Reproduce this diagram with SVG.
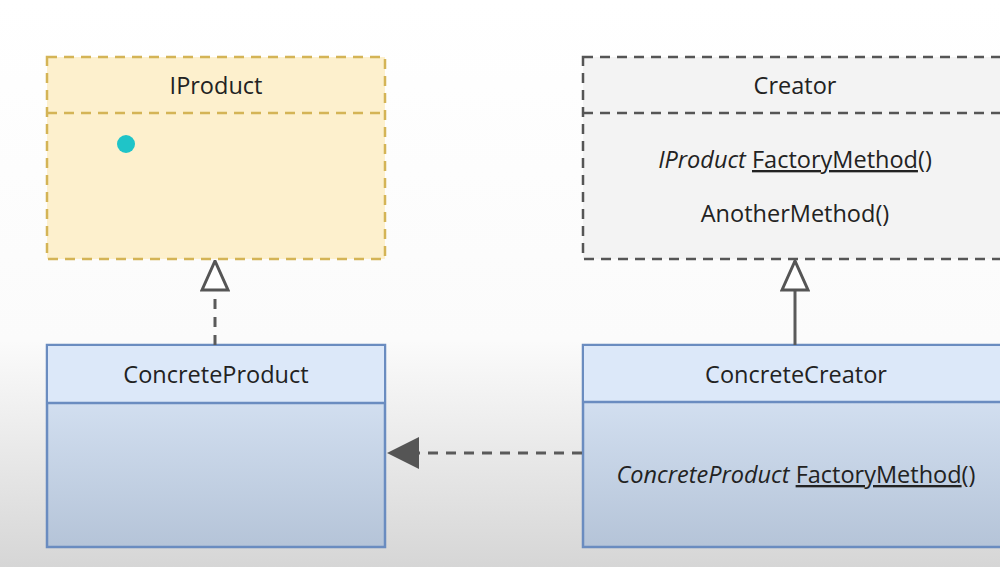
<svg xmlns="http://www.w3.org/2000/svg" width="1000" height="567" viewBox="0 0 1000 567">
<defs>
<linearGradient id="bg" x1="0" y1="0" x2="0" y2="1">
<stop offset="0" stop-color="#ffffff"/>
<stop offset="0.6" stop-color="#fbfbfb"/>
<stop offset="1" stop-color="#d6d6d6"/>
</linearGradient>
<linearGradient id="blue" x1="0" y1="0" x2="0" y2="1">
<stop offset="0" stop-color="#dde9f9"/>
<stop offset="1" stop-color="#b5c4d8"/>
</linearGradient>
<marker id="hollow" viewBox="0 0 32 30" refX="31" refY="15" markerWidth="32" markerHeight="30" markerUnits="userSpaceOnUse" orient="auto">
<path d="M2,2 L31,15 L2,28 Z" fill="#ffffff" stroke="#555555" stroke-width="3" stroke-linejoin="miter"/>
</marker>
<marker id="filled" viewBox="0 0 32 32" refX="31" refY="16" markerWidth="32" markerHeight="32" markerUnits="userSpaceOnUse" orient="auto">
<path d="M0,0 L32,16 L0,32 Z" fill="#555555"/>
</marker>
</defs>
<style>
.t{font-family:"Open Sans","Noto Sans",sans-serif;font-size:23.5px;fill:#222222;text-anchor:middle}
.i{font-style:italic}
.u{text-decoration:underline}
.conn{stroke:#5a5a5a;stroke-width:3;fill:none}
.dash{stroke-dasharray:10 8}
</style>
<rect width="1000" height="567" fill="url(#bg)"/>

<g id="iproduct">
<rect x="47" y="57" width="338" height="202" fill="#fdf0cd" stroke="#d4b456" stroke-width="2.5" stroke-dasharray="10 7"/>
<line x1="47" y1="113" x2="385" y2="113" stroke="#d4b456" stroke-width="2.5" stroke-dasharray="10 7"/>
<text class="t" x="216" y="94">IProduct</text>
</g>

<g id="creator">
<rect x="583" y="57" width="440" height="202" fill="#f3f3f3" stroke="#555555" stroke-width="2.5" stroke-dasharray="10 7"/>
<line x1="583" y1="113" x2="1000" y2="113" stroke="#555555" stroke-width="2.5" stroke-dasharray="10 7"/>
<text class="t" x="795" y="94">Creator</text>
<text class="t" x="795" y="168"><tspan class="i">IProduct</tspan> <tspan class="u">FactoryMethod</tspan>()</text>
<text class="t" x="795" y="222">AnotherMethod()</text>
</g>

<g id="concreteproduct">
<rect x="47" y="345" width="338" height="202" fill="url(#blue)" stroke="#6a8cc0" stroke-width="2.5"/>
<rect x="48" y="346" width="336" height="57" fill="#dce8f9"/>
<line x1="47" y1="403" x2="385" y2="403" stroke="#6a8cc0" stroke-width="2.5"/>
<text class="t" x="216" y="383">ConcreteProduct</text>
</g>

<g id="concretecreator">
<rect x="583" y="345" width="440" height="202" fill="url(#blue)" stroke="#6a8cc0" stroke-width="2.5"/>
<rect x="584" y="346" width="416" height="56" fill="#dce8f9"/>
<line x1="583" y1="402" x2="1000" y2="402" stroke="#6a8cc0" stroke-width="2.5"/>
<text class="t" x="796" y="383">ConcreteCreator</text>
<text class="t" x="796" y="483"><tspan class="i">ConcreteProduct</tspan> <tspan class="u">FactoryMethod</tspan>()</text>
</g>

<g id="connectors">
<line class="conn dash" x1="215" y1="345" x2="215" y2="261" marker-end="url(#hollow)"/>
<line class="conn" x1="795" y1="345" x2="795" y2="261" marker-end="url(#hollow)"/>
<line class="conn dash" x1="582" y1="453" x2="388" y2="453" marker-end="url(#filled)"/>
</g>

<circle cx="126" cy="144" r="9" fill="#1fc4c8"/>
</svg>
